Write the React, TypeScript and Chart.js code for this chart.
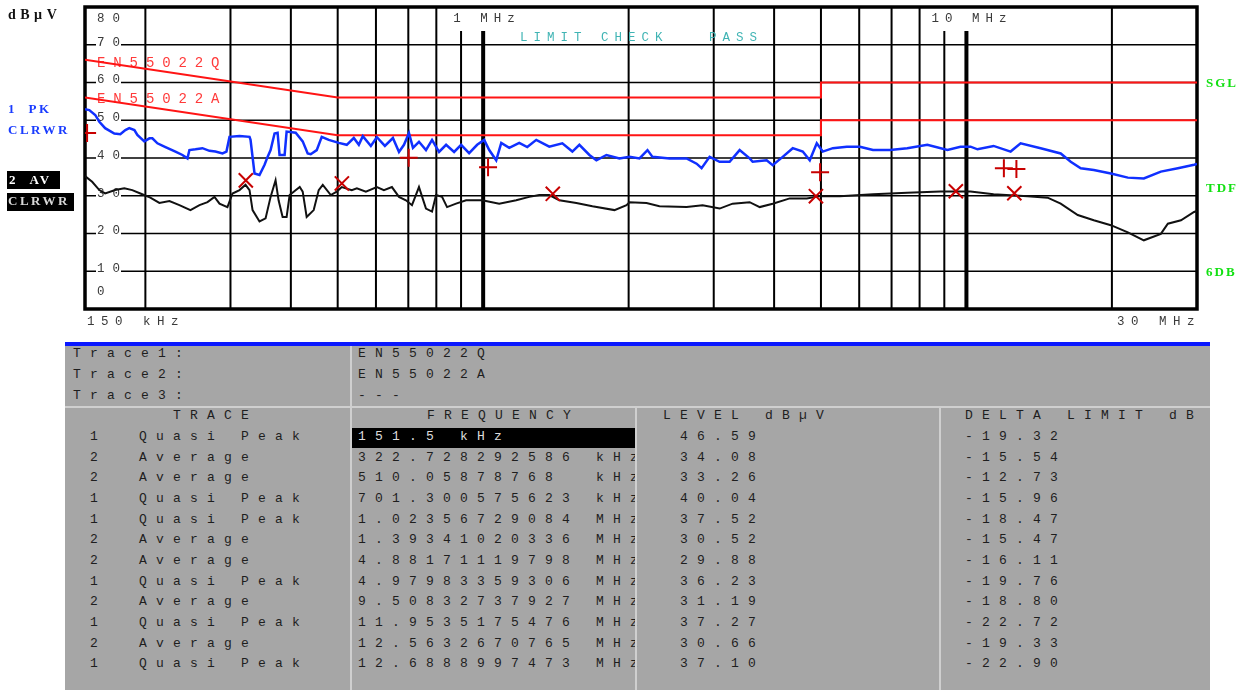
import React, { useEffect, useRef } from 'react';
import { Chart, registerables } from 'chart.js';

Chart.register(...registerables);

// ---------- data ----------
const peakFreqKHz = [150, 153.1, 157.5, 160.6, 165.1, 172.5, 177.5, 181.8, 185.2, 189.8, 192.5, 199.0, 203.9, 206.8, 211.8, 220.1, 230.8, 238.6, 244.4, 246.7, 253.9, 262.5, 271.4, 279.2, 288.8, 294.3, 298.6, 313.2, 328.5, 330.1, 336.4, 344.5, 352.9, 358.0, 363.2, 370.1, 375.5, 379.0, 388.3, 392.0, 409.3, 423.2, 433.4, 439.7, 452.5, 463.4, 479.2, 502.6, 522.1, 539.9, 553.0, 563.6, 585.6, 602.6, 626.1, 650.5, 669.6, 685.7, 702.2, 715.7, 736.5, 761.5, 783.8, 810.4, 838.1, 870.7, 900.3, 935.3, 971.8, 1004.9, 1029.3, 1064.2, 1090.0, 1132.3, 1187.6, 1233.8, 1287.9, 1370.3, 1458.3, 1529.6, 1581.5, 1659.0, 1715.3, 1799.2, 1914.5, 2008.4, 2106.3, 2188.0, 2240.7, 2431.2, 2635.9, 2764.6, 2831.3, 2941.6, 3085.4, 3235.9, 3394.0, 3560.0, 3611.3, 3860.9, 3973.0, 4167.0, 4371.3, 4585.2, 4740.5, 4901.3, 5043.5, 5291.5, 5656, 6019, 6408, 6952, 7543, 8300, 9135, 9720, 10196, 10544, 11381, 12344, 12946, 14243, 15670, 16436, 17240, 18345, 19901, 21578, 23285, 25251, 27391, 29583, 30000];
const peakLevel = [52.9, 52.7, 51.4, 49.6, 47.9, 46.5, 46.3, 47.4, 47.9, 47.4, 46.1, 44.4, 45.2, 45.2, 43.9, 42.9, 41.7, 40.8, 39.9, 42.1, 42.3, 42.6, 41.9, 41.7, 41.2, 41.7, 45.6, 45.8, 45.6, 44.8, 35.9, 35.5, 38.2, 40.3, 42.1, 46.5, 46.7, 40.8, 40.8, 47.0, 46.7, 44.4, 41.2, 41.0, 42.1, 45.6, 44.8, 44.0, 43.5, 45.3, 43.5, 45.8, 43.2, 45.5, 43.2, 45.3, 41.6, 43.5, 46.6, 42.7, 44.3, 42.1, 44.8, 41.6, 43.5, 41.6, 43.5, 41.3, 43.5, 44.8, 42.1, 39.4, 44.0, 42.7, 44.0, 42.9, 44.8, 43.0, 43.9, 41.7, 43.5, 40.8, 39.4, 40.8, 39.9, 40.3, 39.9, 42.1, 40.3, 39.9, 39.9, 38.5, 37.3, 40.3, 39.0, 39.0, 42.1, 39.9, 39.0, 39.4, 38.1, 40.3, 42.6, 41.7, 39.4, 43.9, 41.7, 42.6, 43.0, 43.0, 42.1, 42.1, 42.6, 43.5, 42.1, 43.0, 43.0, 42.3, 43.2, 41.7, 43.9, 42.6, 41.2, 39.0, 37.3, 36.8, 35.9, 34.8, 34.6, 36.4, 37.3, 38.2, 38.4];

const avgFreqKHz = [150, 155.2, 160.6, 165.1, 173.2, 180.9, 187.9, 195.3, 204.8, 213.8, 224.3, 235.2, 247.9, 258.8, 268.9, 278.0, 284.7, 295.7, 302.9, 313.2, 322.3, 328.5, 333.3, 344.5, 354.6, 363.2, 371.9, 377.3, 384.6, 392.0, 397.7, 417.3, 423.2, 431.3, 435.5, 446.0, 456.8, 465.7, 483.8, 497.8, 509.9, 534.6, 547.8, 571.8, 602.6, 623.2, 647.4, 669.6, 692.2, 712.4, 736.5, 761.5, 783.8, 798.9, 822.1, 842.0, 878.8, 921.9, 995.7, 1079.4, 1170.5, 1245.4, 1306.4, 1370.3, 1437.4, 1559.0, 1683.0, 1869.4, 1979.9, 2008.4, 2177.8, 2316.2, 2635.9, 2845.1, 3085.4, 3282.2, 3560.0, 3734.9, 3973.0, 4309.2, 4673.8, 4972.5, 5471.2, 6408, 7543, 8832, 10196, 11381, 13383, 14724, 15670, 16998, 18345, 19901, 21578, 23285, 25251, 26110, 27796, 29583, 30000];
const avgLevel = [35.2, 33.7, 31.5, 30.6, 31.5, 32.0, 31.5, 30.6, 29.5, 28.1, 28.6, 27.5, 26.2, 27.5, 28.3, 29.7, 27.9, 27.0, 30.6, 31.5, 32.9, 31.5, 26.2, 23.2, 24.0, 29.7, 34.1, 28.8, 24.4, 24.4, 30.2, 32.3, 31.1, 24.4, 24.9, 26.2, 31.5, 32.9, 30.2, 31.1, 32.3, 31.5, 32.0, 31.1, 32.3, 31.5, 32.3, 29.7, 28.8, 27.5, 32.3, 26.6, 25.8, 30.2, 29.7, 27.0, 27.9, 28.8, 28.8, 27.9, 28.8, 29.7, 30.2, 30.2, 28.8, 28.1, 27.2, 26.2, 27.5, 28.3, 28.1, 27.2, 27.0, 27.5, 26.6, 27.9, 28.3, 27.0, 27.9, 29.3, 29.3, 29.9, 29.9, 30.4, 30.8, 31.1, 31.1, 30.4, 29.9, 29.5, 27.9, 24.9, 23.5, 22.2, 20.3, 18.2, 19.9, 22.6, 23.5, 25.7, 26.0];

const limitFreqKHz = [150, 500, 5000, 5000, 30000];
const limitQLevel = [66, 56, 56, 60, 60];
const limitALevel = [56, 46, 46, 50, 50];

const markerTrace = [1, 2, 2, 1, 1, 2, 2, 1, 2, 1, 2, 1];
const markerFreqKHz = [151.5, 322.728292586, 510.05878768, 701.300575623, 1023.56729084, 1393.41020336, 4881.71119798, 4979.83359306, 9508.32737927, 11953.5175476, 12563.2670765, 12688.8997473];
const markerFreqLabel = ['151.5 kHz', '322.728292586 kHz', '510.05878768  kHz', '701.300575623 kHz', '1.02356729084 MHz', '1.39341020336 MHz', '4.88171119798 MHz', '4.97983359306 MHz', '9.50832737927 MHz', '11.9535175476 MHz', '12.5632670765 MHz', '12.6888997473 MHz'];
const markerLevel = [46.59, 34.08, 33.26, 40.04, 37.52, 30.52, 29.88, 36.23, 31.19, 37.27, 30.66, 37.10];
const markerDelta = [-19.32, -15.54, -12.73, -15.96, -18.47, -15.47, -16.11, -19.76, -18.80, -22.72, -19.33, -22.90];
const traceNames = ['Quasi Peak', 'Average'];

const levelTicks = [80, 70, 60, 50, 40, 30, 20, 10, 0];
const freqGridKHz = [200, 300, 400, 500, 600, 700, 800, 900, 1000, 2000, 3000, 4000, 5000, 6000, 7000, 8000, 9000, 10000, 20000];
const majorFreqKHz = [1000, 10000];
const labelledFreqKHz = [900, 1000, 9000, 10000];

// ---------- drawing helpers ----------
const MONO = '"Liberation Mono", "DejaVu Sans Mono", monospace';

function drawText(ctx: any, s: string, x: number, y: number, font: string, spacing: string, color: string) {
  ctx.font = font;
  ctx.letterSpacing = spacing;
  ctx.fillStyle = color;
  ctx.textBaseline = 'middle';
  ctx.textAlign = 'left';
  ctx.fillText(s, x, y);
}

const emiPlugin = {
  id: 'emiFrame',
  beforeDatasetsDraw(chart: any) {
    const { ctx, chartArea: a, scales } = chart;
    const xs = scales.x;
    const ys = scales.y;
    ctx.save();
    ctx.fillStyle = '#fff';
    ctx.fillRect(a.left, a.top, a.right - a.left, a.bottom - a.top);
    ctx.strokeStyle = '#000';
    // horizontal grid
    ctx.lineWidth = 1.6;
    levelTicks.forEach((v) => {
      if (v === 0 || v === 80) return;
      const py = ys.getPixelForValue(v);
      ctx.beginPath();
      ctx.moveTo(a.left, py);
      ctx.lineTo(a.right, py);
      ctx.stroke();
    });
    // vertical grid
    freqGridKHz.forEach((f) => {
      const px = xs.getPixelForValue(f * 1000);
      ctx.lineWidth = majorFreqKHz.includes(f) ? 4 : 2;
      const top = labelledFreqKHz.includes(f) ? a.top + 24 : a.top;
      ctx.beginPath();
      ctx.moveTo(px, top);
      ctx.lineTo(px, a.bottom);
      ctx.stroke();
    });
    // frame
    ctx.lineWidth = 3.5;
    ctx.strokeRect(a.left, a.top, a.right - a.left, a.bottom - a.top);

    // level labels
    const lf = '12.5px ' + MONO;
    levelTicks.forEach((v) => {
      let py = ys.getPixelForValue(v) - 2.5;
      if (v === 80) py = a.top + 12;
      if (v === 0) py = a.bottom - 17;
      const lx = a.left + 12;
      if (v !== 80 && v !== 0) {
        ctx.fillStyle = '#fff';
        ctx.fillRect(lx - 1, py - 5.5, 25, 10);
      }
      drawText(ctx, String(v), lx, py, lf, '8px', '#3a3a3a');
    });

    const tf = '12.5px ' + MONO;
    const x1 = xs.getPixelForValue(1e6);
    const x10 = xs.getPixelForValue(1e7);
    drawText(ctx, '1 MHz', x1 - 30, a.top + 12, tf, '6px', '#3a3a3a');
    drawText(ctx, '10 MHz', x10 - 35, a.top + 12, tf, '6px', '#3a3a3a');
    drawText(ctx, 'LIMIT CHECK   PASS', 520, a.top + 31, tf, '6px', '#40b4b4');
    drawText(ctx, 'EN55022Q', a.left + 12, ys.getPixelForValue(limitQLevel[0]) + 3, '14px ' + MONO, '7.9px', '#ff3a3a');
    drawText(ctx, 'EN55022A', a.left + 12, ys.getPixelForValue(limitALevel[0]) + 2, '14px ' + MONO, '7.9px', '#ff3a3a');

    // outside labels
    drawText(ctx, '150 kHz', a.left + 2, a.bottom + 13, tf, '6.5px', '#3a3a3a');
    drawText(ctx, '30 MHz', a.right - 80, a.bottom + 13, tf, '6.5px', '#3a3a3a');

    const bf = 'bold 13px "Liberation Serif", "DejaVu Serif", serif';
    drawText(ctx, 'dBµV', 8, 15, 'bold 14px "Liberation Serif", "DejaVu Serif", serif', '4.5px', '#111');
    drawText(ctx, '1  PK', 8, 110, bf, '2.5px', '#1a3cff');
    drawText(ctx, 'CLRWR', 8, 131, bf, '2.5px', '#1a3cff');
    ctx.fillStyle = '#000';
    ctx.fillRect(7, 171, 53, 18);
    ctx.fillRect(7, 193, 67, 18);
    drawText(ctx, '2  AV', 9, 180.5, bf, '2.5px', '#fff');
    drawText(ctx, 'CLRWR', 8, 202, bf, '2.5px', '#d8d8d8');
    drawText(ctx, 'SGL', 1206, 84, bf, '2px', '#12e012');
    drawText(ctx, 'TDF', 1206, 189, bf, '2px', '#12e012');
    drawText(ctx, '6DB', 1206, 273, bf, '2px', '#12e012');
    ctx.restore();
  },
};

const pts = (fs: number[], vs: number[]) => fs.map((f, i) => ({ x: f * 1000, y: vs[i] }));

// ---------- table ----------
const TFONT = '13px ' + MONO;
function Cell({ x, y, text, color = '#1e1e1e' }: { x: number; y: number; text: string; color?: string }) {
  return (
    <div
      style={{
        position: 'absolute',
        left: x,
        top: y - 8,
        font: TFONT,
        letterSpacing: '9.2px',
        whiteSpace: 'pre',
        lineHeight: '16px',
        color,
      }}
    >
      {text}
    </div>
  );
}

function Box({ x, y, w, h, c }: { x: number; y: number; w: number; h: number; c: string }) {
  return <div style={{ position: 'absolute', left: x, top: y, width: w, height: h, background: c }} />;
}

export default function App() {
  const ref = useRef<HTMLCanvasElement>(null);

  useEffect(() => {
    if (!ref.current) return;
    const qpIdx = markerTrace.map((t, i) => (t === 1 ? i : -1)).filter((i) => i >= 0);
    const avIdx = markerTrace.map((t, i) => (t === 2 ? i : -1)).filter((i) => i >= 0);
    const chart = new Chart(ref.current, {
      type: 'line',
      data: {
        datasets: [
          {
            label: 'QP markers',
            data: qpIdx.map((i) => ({ x: markerFreqKHz[i] * 1000, y: markerLevel[i] })),
            showLine: false,
            pointStyle: 'cross',
            pointRadius: 9,
            pointBorderColor: '#c80000',
            pointBorderWidth: 2,
            borderColor: '#c80000',
          },
          {
            label: 'AV markers',
            data: avIdx.map((i) => ({ x: markerFreqKHz[i] * 1000, y: markerLevel[i] })),
            showLine: false,
            pointStyle: 'crossRot',
            pointRadius: 10,
            pointBorderColor: '#c80000',
            pointBorderWidth: 2,
            borderColor: '#c80000',
          },
          {
            label: '1 PK',
            data: pts(peakFreqKHz, peakLevel),
            borderColor: '#1030ff',
            borderWidth: 2.5,
            pointRadius: 0,
            tension: 0,
          },
          {
            label: '2 AV',
            data: pts(avgFreqKHz, avgLevel),
            borderColor: '#111',
            borderWidth: 2,
            pointRadius: 0,
            tension: 0,
          },
          {
            label: 'EN55022Q',
            data: pts(limitFreqKHz, limitQLevel),
            borderColor: '#ff1414',
            borderWidth: 2,
            pointRadius: 0,
            tension: 0,
          },
          {
            label: 'EN55022A',
            data: pts(limitFreqKHz, limitALevel),
            borderColor: '#ff1414',
            borderWidth: 2,
            pointRadius: 0,
            tension: 0,
          },
        ],
      },
      options: {
        responsive: false,
        animation: false,
        devicePixelRatio: 1,
        events: [],
        layout: { autoPadding: false, padding: { left: 85, right: 57, top: 7, bottom: 26 } },
        plugins: { legend: { display: false }, tooltip: { enabled: false } },
        scales: {
          x: { type: 'logarithmic', min: 150000, max: 30000000, display: false },
          y: { type: 'linear', min: 0, max: 80, display: false },
        },
      },
      plugins: [emiPlugin],
    } as any);
    return () => chart.destroy();
  }, []);

  const rowY = (i: number) => 437 + i * 20.65;

  return (
    <div style={{ position: 'absolute', left: 0, top: 0, width: 1254, height: 690, background: '#fff', overflow: 'hidden' }}>
      <canvas ref={ref} width={1254} height={335} style={{ position: 'absolute', left: 0, top: 0, width: 1254, height: 335 }} />
      <Box x={65} y={342} w={1145} h={4} c="#0a18ff" />
      <Box x={65} y={346} w={1145} h={344} c="#a6a6a6" />
      <Cell x={73} y={354} text="Trace1:" />
      <Cell x={73} y={375} text="Trace2:" />
      <Cell x={73} y={396} text="Trace3:" />
      <Cell x={358} y={354} text="EN55022Q" />
      <Cell x={358} y={375} text="EN55022A" />
      <Cell x={358} y={396} text="---" />
      <Cell x={173} y={416} text="TRACE" />
      <Cell x={427} y={416} text="FREQUENCY" />
      <Cell x={663} y={416} text="LEVEL dBµV" />
      <Cell x={965} y={416} text="DELTA LIMIT dB" />
      <Box x={352} y={428} w={283} h={20} c="#000" />
      {markerTrace.map((t, i) => (
        <React.Fragment key={i}>
          <Cell x={90} y={rowY(i)} text={String(t)} />
          <Cell x={139} y={rowY(i)} text={traceNames[t - 1]} />
          <Cell x={358} y={rowY(i)} text={markerFreqLabel[i]} color={i === 0 ? '#dcdcdc' : '#1e1e1e'} />
          <Cell x={680} y={rowY(i)} text={markerLevel[i].toFixed(2)} />
          <Cell x={965} y={rowY(i)} text={markerDelta[i].toFixed(2)} />
        </React.Fragment>
      ))}
      <Box x={350} y={346} w={2} h={344} c="#cfcfcf" />
      <Box x={65} y={406} w={1145} h={2} c="#cfcfcf" />
      <Box x={635} y={406} w={2} h={284} c="#cfcfcf" />
      <Box x={939} y={406} w={2} h={284} c="#cfcfcf" />
    </div>
  );
}
